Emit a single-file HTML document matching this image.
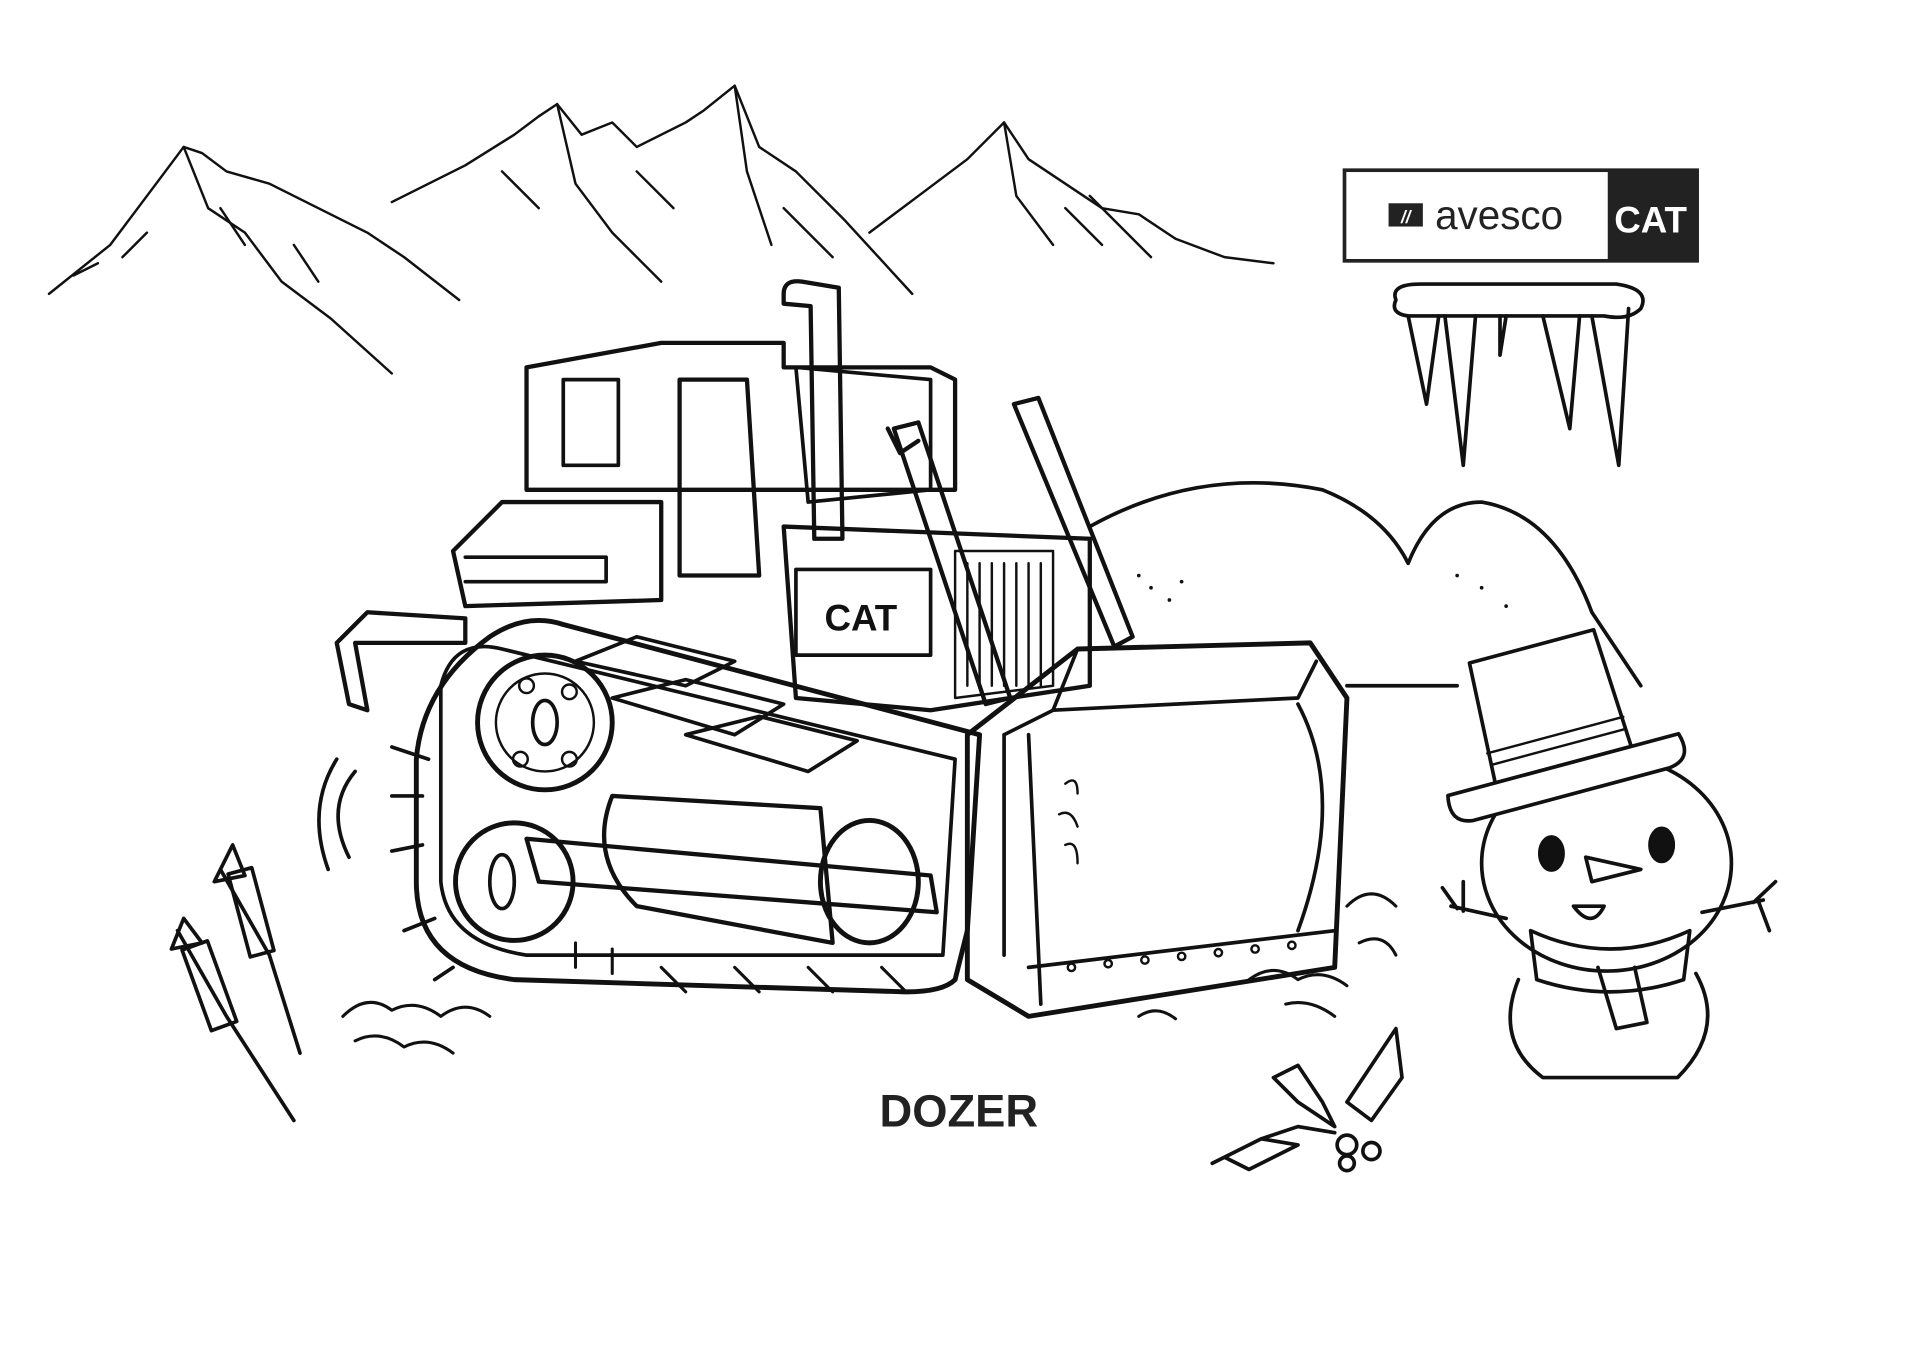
<!DOCTYPE html>
<html><head><meta charset="utf-8"><style>
html,body{margin:0;padding:0;background:#fff;}
svg{display:block}
</style></head><body>
<svg width="1920" height="1358" viewBox="0 0 1568 1109" preserveAspectRatio="none" xmlns="http://www.w3.org/2000/svg">
<rect width="1568" height="1109" fill="#fff"/>
<g fill="none" stroke="#111" stroke-width="2" stroke-linejoin="round" stroke-linecap="round">
<!-- mountains -->
<path d="M40,240 L90,200 L120,160 L150,120 L165,125 L185,140 L220,150 L260,170 L300,190 L330,210 L375,245"/>
<path d="M150,120 L170,170 L200,190 L230,230 L270,260 L320,305"/>
<path d="M320,165 L380,135 L420,110 L440,95 L455,85 L475,110 L500,100 L520,120 L560,100 L575,90 L600,70 L620,120 L650,140 L690,180 L745,240"/>
<path d="M455,85 L470,150 L500,190 L540,230 M600,70 L610,140 L630,200"/>
<path d="M710,190 L750,160 L790,130 L820,100 L840,130 L870,150 L900,170 L930,175 L960,195 L1000,210 L1040,215"/>
<path d="M820,100 L830,160 L860,200 M890,160 L940,210"/>
<path d="M60,225 L80,215 M100,210 L120,190 M180,170 L200,200 M240,200 L260,230 M410,140 L440,170 M520,140 L550,170 M640,170 L680,210 M870,170 L900,200"/>
<!-- icicle -->
<path d="M1140,245 Q1135,232 1160,232 L1320,232 Q1348,236 1340,252 Q1330,262 1310,258 L1150,258 Q1135,256 1140,245 Z" stroke-width="3"/>
<path d="M1150,258 L1165,330 L1175,258 M1180,258 L1195,380 L1205,258 M1225,258 L1225,290 L1230,258 M1260,258 L1282,350 L1290,258 M1300,258 L1322,380 L1330,252" stroke-width="3"/>
<!-- hills -->
<path d="M890,430 Q980,380 1080,400 Q1130,420 1150,460 Q1170,410 1210,410 Q1270,420 1300,500 L1340,560 M1100,560 L1190,560" stroke-width="3"/>
<!-- dozer cab -->
<path d="M430,300 L540,280 L640,280 L640,300 L760,300 L780,310 L780,400 L430,400 Z" stroke-width="3.5"/>
<rect x="460" y="310" width="45" height="70" stroke-width="3"/>
<path d="M555,310 L610,310 L620,470 L555,470 Z" stroke-width="3.5"/>
<path d="M650,300 L660,410 L760,400 L760,310 Z" stroke-width="3"/>
<path d="M640,240 Q640,228 655,230 L685,235 L688,440 L665,440 L662,250 L640,248 Z" stroke-width="3.5"/>
<!-- body -->
<path d="M410,410 L540,410 L540,490 L380,495 L370,450 Z" stroke-width="3.5"/>
<path d="M380,455 L495,455 L495,475 L380,475" stroke-width="3"/>
<path d="M640,430 L890,440 L890,560 L760,580 L650,570 Z" stroke-width="3.5"/>
<rect x="650" y="465" width="110" height="70" stroke-width="3"/>
<path d="M780,450 L860,450 L860,560 L780,570 Z M790,460 L790,560 M800,460 L800,560 M810,460 L810,560 M820,460 L820,560 M830,460 L830,560 M840,460 L840,560 M850,460 L850,560" stroke-width="2"/>
<!-- hydraulic arms -->
<path d="M730,350 L750,345 L825,570 L805,575 Z M725,350 L735,370 L750,360" stroke-width="3.5"/>
<path d="M828,330 L848,325 L925,520 L910,528 Z" stroke-width="3.5"/>
<!-- ripper -->
<path d="M275,525 L300,500 L380,505 L380,525 L290,525 L300,580 L285,575 Z" stroke-width="3.5"/>
<!-- track -->
<path d="M400,520 Q430,500 460,510 L800,600 L790,760 L780,800 Q770,810 740,810 L420,800 Q340,790 340,720 L340,620 Q345,560 400,520 Z" stroke-width="4"/>
<path d="M360,560 Q370,520 410,530 L780,620 L770,780 L430,780 Q365,770 360,720 Z" stroke-width="3"/>
<path d="M470,540 L520,520 L600,540 L560,560 Z M500,570 L560,555 L640,575 L600,600 Z M560,600 L620,585 L700,605 L660,630 Z" stroke-width="3"/>
<circle cx="445" cy="590" r="55" stroke-width="4"/>
<circle cx="445" cy="590" r="40" stroke-width="2"/>
<ellipse cx="445" cy="590" rx="10" ry="18" stroke-width="3"/>
<circle cx="430" cy="560" r="6"/><circle cx="465" cy="565" r="6"/><circle cx="425" cy="620" r="6"/><circle cx="465" cy="620" r="6"/>
<circle cx="420" cy="720" r="48" stroke-width="4"/>
<ellipse cx="410" cy="720" rx="10" ry="22" stroke-width="3"/>
<path d="M500,650 Q480,700 520,740 L680,770 L670,660 Z" stroke-width="3.5"/>
<ellipse cx="710" cy="720" rx="40" ry="50" stroke-width="4"/>
<path d="M430,685 L760,715 L765,745 L440,720 Z" stroke-width="3.5"/>
<path d="M350,620 L320,610 M345,650 L320,650 M345,690 L320,695 M355,750 L330,760 M370,790 L355,800" stroke-width="3"/>
<path d="M290,630 Q265,660 285,700 M275,620 Q250,660 268,710" stroke-width="3"/>
<path d="M470,770 L470,790 M500,775 L500,795 M540,790 L560,810 M600,790 L620,810 M660,790 L680,810 M720,790 L740,810" stroke-width="2.5"/>
<!-- blade -->
<path d="M790,600 L880,530 L1070,525 L1100,570 L1090,790 L840,830 L790,800 Z" stroke-width="4"/>
<path d="M880,530 L860,580 L820,600 M860,580 L1060,570 L1075,540 M820,600 L820,780" stroke-width="3"/>
<path d="M840,600 L850,820 M1060,575 Q1100,650 1060,760" stroke-width="3"/>
<path d="M840,790 L1090,760" stroke-width="3"/>
<circle cx="875" cy="790" r="3"/><circle cx="905" cy="787" r="3"/><circle cx="935" cy="784" r="3"/><circle cx="965" cy="781" r="3"/><circle cx="995" cy="778" r="3"/><circle cx="1025" cy="775" r="3"/><circle cx="1055" cy="772" r="3"/>
<path d="M870,640 Q880,632 880,648 M865,665 Q875,660 880,675 M870,690 Q880,685 880,705" stroke-width="2"/>
<!-- debris -->
<path d="M280,830 Q300,810 320,825 Q340,815 360,830 Q380,815 400,830 M290,850 Q310,840 330,855 Q350,845 370,860 M930,830 Q945,820 960,832 M1020,800 Q1040,785 1060,800 Q1080,790 1100,805 M1050,820 Q1070,815 1090,830 M1100,740 Q1120,720 1140,740 M1110,770 Q1130,760 1140,780" stroke-width="2.5"/>
<!-- snowman -->
<ellipse cx="1312" cy="705" rx="102" ry="88" stroke-width="3" fill="#fff"/>
<g transform="rotate(-15 1270 590)">
<path d="M1215,525 L1320,525 L1325,625 L1210,625 Z" stroke-width="3" fill="#fff"/>
<path d="M1210,600 L1325,600 M1212,610 L1323,610" stroke-width="2"/>
<path d="M1170,625 L1365,625 Q1372,648 1350,650 L1185,650 Q1165,648 1170,625 Z" stroke-width="3" fill="#fff"/>
</g>
<ellipse cx="1267" cy="697" rx="10" ry="14" fill="#111"/>
<ellipse cx="1357" cy="690" rx="10" ry="14" fill="#111"/>
<path d="M1295,700 L1340,710 L1300,720 Z M1285,740 Q1300,760 1310,740 Z" stroke-width="3"/>
<path d="M1250,760 Q1315,790 1380,760 L1375,800 Q1315,820 1255,800 Z" stroke-width="3"/>
<path d="M1305,790 L1320,840 L1345,835 L1335,790" stroke-width="3"/>
<path d="M1240,800 Q1220,850 1260,880 L1370,880 Q1410,840 1385,795" stroke-width="3"/>
<path d="M1230,750 L1185,740 M1190,742 L1178,725 M1195,744 L1195,720 M1390,745 L1440,735 M1432,737 L1450,720 M1436,736 L1445,760" stroke-width="3"/>
<!-- fireworks -->
<path d="M180,710 L220,780 L245,860 M190,690 L175,720 L200,715 Z" stroke-width="3"/>
<rect x="195" y="710" width="20" height="70" transform="rotate(-15 205 745)" stroke-width="3"/>
<path d="M145,760 L185,830 L240,915 M150,750 L140,775 L165,770 Z" stroke-width="3"/>
<rect x="160" y="770" width="22" height="70" transform="rotate(-20 171 805)" stroke-width="3"/>
<!-- holly -->
<path d="M990,950 L1030,930 L1060,920 L1090,925 M1030,930 L1000,945 L1020,955 L1060,935 Z" stroke-width="3"/>
<path d="M1040,880 L1060,870 L1080,900 L1090,920 L1060,900 Z" stroke-width="3"/>
<path d="M1100,900 L1120,870 L1140,840 L1145,880 L1120,915 Z" stroke-width="3"/>
<circle cx="1100" cy="935" r="8" stroke-width="3"/><circle cx="1120" cy="940" r="7" stroke-width="3"/><circle cx="1100" cy="950" r="6" stroke-width="3"/>
</g>
<g fill="#111">
<circle cx="930" cy="470" r="1.5"/><circle cx="940" cy="480" r="1.5"/><circle cx="955" cy="490" r="1.5"/><circle cx="965" cy="475" r="1.5"/><circle cx="1190" cy="470" r="1.5"/><circle cx="1210" cy="480" r="1.5"/><circle cx="1230" cy="495" r="1.5"/>
</g>
<text x="703" y="515" font-family="Liberation Sans, sans-serif" font-weight="bold" font-size="30" text-anchor="middle" fill="#111">CAT</text>
<rect x="1098" y="139" width="288" height="74" fill="#fff" stroke="#222" stroke-width="3"/>
<rect x="1313" y="139" width="74" height="74" fill="#222"/>
<rect x="1134" y="166" width="28" height="19" fill="#222"/>
<text x="1148" y="182" font-family="Liberation Sans, sans-serif" font-weight="bold" font-style="italic" font-size="14" text-anchor="middle" fill="#fff">//</text>
<text x="1172" y="187" font-family="Liberation Sans, sans-serif" font-size="33" fill="#222">avesco</text>
<text x="1348" y="190" font-family="Liberation Sans, sans-serif" font-weight="bold" font-size="30" text-anchor="middle" fill="#fff">CAT</text>
<text x="783" y="920" font-family="Liberation Sans, sans-serif" font-weight="bold" font-size="37" text-anchor="middle" fill="#222">DOZER</text>
</svg>
</body></html>
